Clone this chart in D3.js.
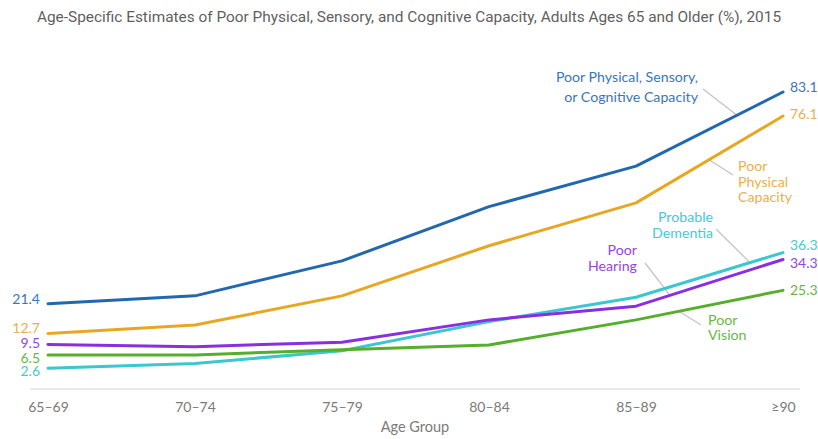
<!DOCTYPE html>
<html>
<head>
<meta charset="utf-8">
<script src="https://cdn.jsdelivr.net/npm/d3@7/dist/d3.min.js"></script>
<style>
  html, body { margin: 0; padding: 0; background: #fff; }
  svg { display: block; }
</style>
</head>
<body>
<svg id="chart" width="818" height="439"></svg>
<script>
// Age groups along the x axis
const ageGroups = ["65–69", "70–74", "75–79", "80–84", "85–89", "≥90"];

// Percent of adults with each type of poor capacity, by age group
const anyCapacity      = [21.4, 23.7, 33.9, 49.7, 61.5, 83.1];
const physicalCapacity = [12.7, 15.2, 23.7, 38.3, 50.8, 76.1];
const probableDementia = [2.6, 4.0, 7.7, 16.2, 23.3, 36.3];
const poorHearing      = [9.5, 8.9, 10.2, 16.7, 20.7, 34.3];
const poorVision       = [6.5, 6.5, 8.0, 9.4, 16.7, 25.3];

const seriesNames = [
  ["Poor Physical, Sensory,", "or Cognitive Capacity"],
  ["Poor", "Physical", "Capacity"],
  ["Probable", "Dementia"],
  ["Poor", "Hearing"],
  ["Poor", "Vision"]
];

const titleText = "Age-Specific Estimates of Poor Physical, Sensory, and Cognitive Capacity, Adults Ages 65 and Older (%), 2015";
const xAxisTitle = "Age Group";

const seriesValues = [anyCapacity, physicalCapacity, probableDementia, poorHearing, poorVision];
const lineColors = ["#2268b0", "#e8a722", "#3cc6d0", "#8a2fe0", "#55ae2c"];
const textColors = ["#3a76b8", "#e9b04e", "#48c9d2", "#9646e0", "#67b842"];

const svg = d3.select("#chart");
const font = "Lato, 'Open Sans', sans-serif";

const x = d3.scalePoint().domain(ageGroups).range([48, 783]);
const y = d3.scaleLinear().domain([0, 90]).range([377.2, 68.3]);

// Title
svg.append("text")
  .attr("x", 409).attr("y", 22)
  .attr("text-anchor", "middle")
  .attr("font-family", "Roboto, sans-serif")
  .attr("font-size", 15.4)
  .attr("fill", "#5f5f5f")
  .text(titleText);

// Baseline
const axisY = 389;
svg.append("line")
  .attr("x1", 30).attr("x2", 800)
  .attr("y1", axisY).attr("y2", axisY)
  .attr("stroke", "#e2e2e2").attr("stroke-width", 1.5);

const xAxis = svg.append("g")
  .attr("transform", `translate(0,${axisY})`)
  .call(d3.axisBottom(x).tickSize(0).tickPadding(13));
xAxis.select(".domain").remove();
xAxis.selectAll("text")
  .attr("font-family", font)
  .attr("font-size", 14)
  .attr("fill", "#7a7a7a");

svg.append("text")
  .attr("x", 415).attr("y", 432)
  .attr("text-anchor", "middle")
  .attr("font-family", font)
  .attr("font-size", 14.5)
  .attr("fill", "#7a7a7a")
  .text(xAxisTitle);

// y of a series polyline at a given pixel x
function yAt(values, px) {
  const pts = ageGroups.map((g, i) => [x(g), y(values[i])]);
  for (let i = 0; i < pts.length - 1; i++) {
    if (px >= pts[i][0] && px <= pts[i + 1][0]) {
      const t = (px - pts[i][0]) / (pts[i + 1][0] - pts[i][0]);
      return pts[i][1] + t * (pts[i + 1][1] - pts[i][1]);
    }
  }
  return pts[pts.length - 1][1];
}

// Series name labels with leader lines
const nameLayout = [
  { x: 698, anchor: "end",   y0: 82,  lh: 19.5, from: [703, 89],  toX: 737 },
  { x: 738, anchor: "start", y0: 171, lh: 15.5, from: [733, 175], toX: 709 },
  { x: 713, anchor: "end",   y0: 222, lh: 15.5, from: [716, 229], toX: 750 },
  { x: 637, anchor: "end",   y0: 255, lh: 15.5, from: [645, 263], toX: 670 },
  { x: 708, anchor: "start", y0: 325, lh: 15,   from: [701, 325], toX: 679 }
];

const leaders = svg.append("g");
nameLayout.forEach((L, i) => {
  leaders.append("line")
    .attr("x1", L.from[0]).attr("y1", L.from[1])
    .attr("x2", L.toX).attr("y2", yAt(seriesValues[i], L.toX))
    .attr("stroke", "#c4c4c4").attr("stroke-width", 1.3);
});

// Data lines
const line = d3.line()
  .x((d, i) => x(ageGroups[i]))
  .y(d => y(d));

svg.append("g").selectAll("path")
  .data(seriesValues)
  .join("path")
  .attr("d", d => line(d))
  .attr("fill", "none")
  .attr("stroke", (d, i) => lineColors[i])
  .attr("stroke-width", 3)
  .attr("stroke-linejoin", "round")
  .attr("stroke-linecap", "round");

nameLayout.forEach((L, i) => {
  const t = svg.append("text")
    .attr("text-anchor", L.anchor)
    .attr("font-family", font)
    .attr("font-size", 14.2)
    .attr("fill", textColors[i]);
  seriesNames[i].forEach((s, k) => {
    t.append("tspan").attr("x", L.x).attr("y", L.y0 + k * L.lh).text(s);
  });
});

// End value labels, nudged apart where lines are close
const startNudge = [-5, -6, 3, -2, 3];
const endNudge = [-5, -2, -8, 3, 0];
const first = 0, last = ageGroups.length - 1;

seriesValues.forEach((vals, i) => {
  svg.append("text")
    .attr("x", 40)
    .attr("y", y(vals[first]) + startNudge[i])
    .attr("dy", "0.36em")
    .attr("text-anchor", "end")
    .attr("font-family", font)
    .attr("font-size", 14)
    .attr("fill", textColors[i])
    .text(vals[first].toFixed(1));
  svg.append("text")
    .attr("x", 790)
    .attr("y", y(vals[last]) + endNudge[i])
    .attr("dy", "0.36em")
    .attr("text-anchor", "start")
    .attr("font-family", font)
    .attr("font-size", 14)
    .attr("fill", textColors[i])
    .text(vals[last].toFixed(1));
});
</script>
</body>
</html>
